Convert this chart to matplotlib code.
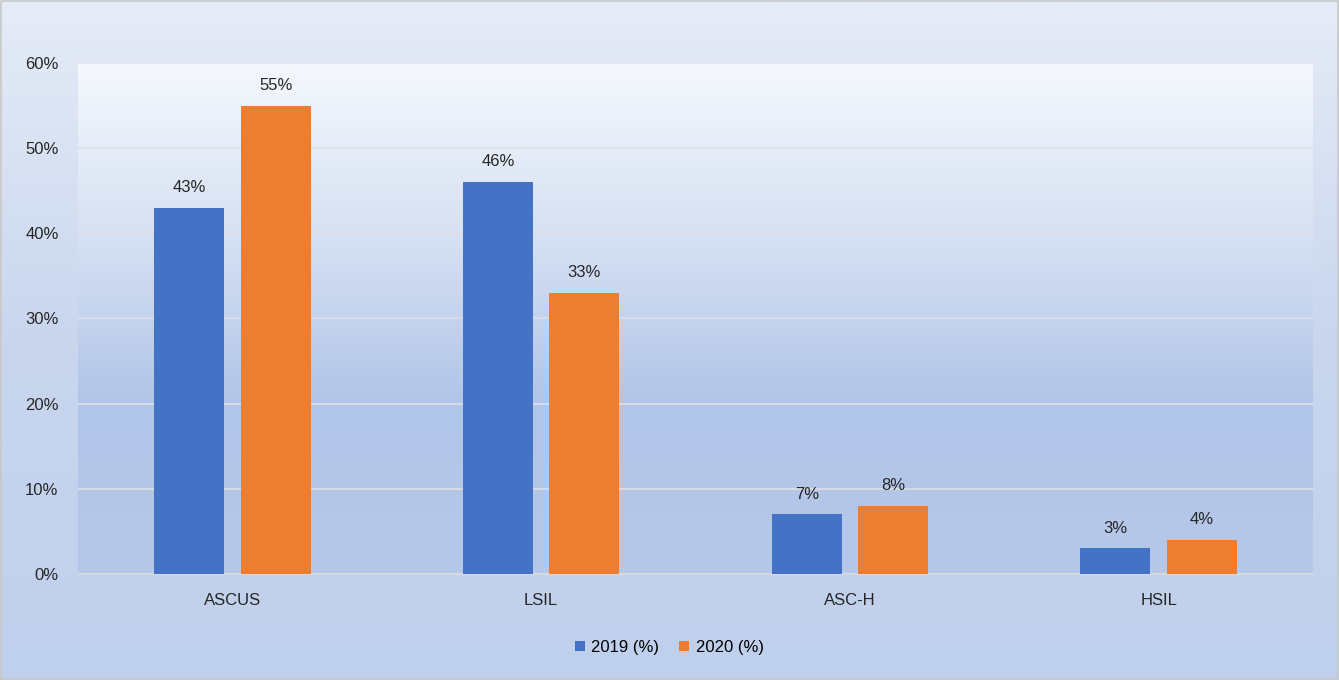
import numpy as np
import matplotlib
matplotlib.use("Agg")
import matplotlib.pyplot as plt
from matplotlib.colors import LinearSegmentedColormap

categories = ["ASCUS", "LSIL", "ASC-H", "HSIL"]
vals_2019 = [43, 46, 7, 3]
vals_2020 = [55, 33, 8, 4]
series_names = ["2019 (%)", "2020 (%)"]
yticks = [0, 10, 20, 30, 40, 50, 60]

plt.rcParams['font.family'] = ['Liberation Sans', 'DejaVu Sans']

fig = plt.figure(figsize=(13.39, 6.8), dpi=100)

# figure background gradient
bg = fig.add_axes([0, 0, 1, 1], zorder=-10)
bg_cmap = LinearSegmentedColormap.from_list("bg", ["#E6ECF7", "#C9D6EE", "#BFD0EC"])
bg.imshow(np.linspace(0, 1, 256).reshape(-1, 1), aspect="auto", cmap=bg_cmap,
          extent=[0, 1, 0, 1], origin="upper")
bg.set_xlim(0, 1); bg.set_ylim(0, 1)
bg.plot([0.001, 0.999, 0.999, 0.001, 0.001], [0.001, 0.001, 0.999, 0.999, 0.001],
        color="#C8C8C8", lw=1.2)
bg.axis("off")

ax = fig.add_axes([0.0583, 0.1559, 0.9223, 0.7515])
ax.set_xlim(-0.5, 3.5)
ax.set_ylim(0, 60)
pa_cmap = LinearSegmentedColormap.from_list("pa", ["#F5F8FD", "#D7E1F3", "#B1C5E8", "#B6C8E9"])
ax.imshow(np.linspace(0, 1, 256).reshape(-1, 1), aspect="auto", cmap=pa_cmap,
          extent=[-0.5, 3.5, 0, 60], origin="upper", zorder=0)

x = np.arange(len(categories))
w = 0.227
b1 = ax.bar(x - 0.14, vals_2019, w, color="#4472C4", zorder=3, label=series_names[0])
b2 = ax.bar(x + 0.14, vals_2020, w, color="#ED7D31", zorder=3, label=series_names[1])

for bars in (b1, b2):
    for r in bars:
        ax.text(r.get_x() + r.get_width() / 2, r.get_height() + 1.5, f"{int(r.get_height())}%",
                ha="center", va="bottom", fontsize=12, color="#262626")

ax.set_yticks(yticks)
ax.set_yticklabels([f"{t}%" for t in yticks])
ax.grid(axis="y", color="#DCDFE6", lw=1.2, zorder=1)
ax.set_axisbelow(True)
ax.set_xticks(x)
ax.set_xticklabels(categories)
ax.tick_params(axis="both", length=0, labelsize=12, colors="#262626")
ax.tick_params(axis="y", pad=14)
ax.tick_params(axis="x", pad=14)
for s in ["top", "right", "left"]:
    ax.spines[s].set_visible(False)
ax.spines["bottom"].set_color("#D9D9D9")
ax.spines["bottom"].set_linewidth(1.2)

fig.legend(handles=[b1, b2], loc="center", bbox_to_anchor=(0.5, 0.048), ncol=2,
           frameon=False, fontsize=12, handlelength=0.6, handleheight=0.6,
           columnspacing=1.2, handletextpad=0.4)

fig.savefig("out.png", dpi=100)
